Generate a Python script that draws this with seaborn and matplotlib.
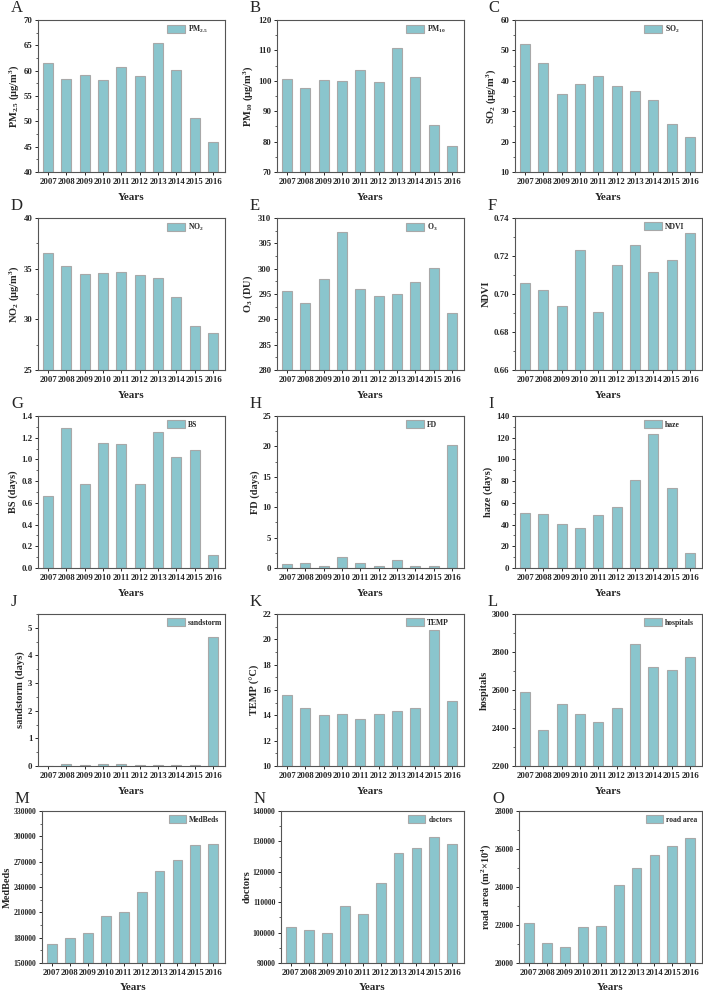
import numpy as np
import pandas as pd
import seaborn as sns
import matplotlib.pyplot as plt
from matplotlib.ticker import AutoMinorLocator

# --- data ---
years = [str(y) for y in range(2007, 2017)]

pm25 = [61.6, 58.3, 59.2, 58.2, 60.7, 59.0, 65.4, 60.1, 50.6, 46.0]
pm10 = [100.7, 97.6, 100.3, 99.8, 103.6, 99.5, 110.7, 101.3, 85.3, 78.4]
so2 = [52.2, 45.9, 35.8, 39.0, 41.5, 38.4, 36.6, 33.6, 25.9, 21.6]
no2 = [36.5, 35.3, 34.5, 34.6, 34.7, 34.4, 34.1, 32.2, 29.3, 28.7]
o3 = [295.6, 293.2, 298.0, 307.2, 296.0, 294.6, 295.0, 297.4, 300.2, 291.3]
ndvi = [0.7057, 0.7022, 0.6937, 0.7233, 0.6903, 0.7152, 0.7257, 0.7117, 0.7180, 0.7323]
bs = [0.66, 1.29, 0.77, 1.15, 1.14, 0.77, 1.25, 1.02, 1.09, 0.12]
fd = [0.7, 0.9, 0.4, 1.8, 0.9, 0.4, 1.3, 0.4, 0.4, 20.3]
haze = [51, 49.5, 40.5, 37, 49, 56, 81, 123, 73.5, 13.5]
sandstorm = [0.01, 0.08, 0.05, 0.08, 0.08, 0.03, 0.04, 0.02, 0.02, 4.68]
temp = [15.6, 14.6, 14.0, 14.1, 13.7, 14.1, 14.35, 14.6, 20.7, 15.1]
hospitals = [2590, 2390, 2525, 2475, 2430, 2505, 2840, 2720, 2705, 2775]
medbeds = [173000, 180000, 185000, 205500, 210500, 234000, 258500, 271500, 289500, 291500]
doctors = [101700, 101000, 100000, 108800, 106000, 116200, 126100, 127800, 131300, 129000]
road_area = [22100, 21050, 20850, 21900, 21950, 24100, 25000, 25700, 26150, 26600]

# (letter, values, legend label, y label, y limits, y ticks)
panels = [
    ("A", pm25, "PM$_{2.5}$", "PM$_{2.5}$ (μg/m$^3$)", (40, 70), np.arange(40, 71, 5)),
    ("B", pm10, "PM$_{10}$", "PM$_{10}$ (μg/m$^3$)", (70, 120), np.arange(70, 121, 10)),
    ("C", so2, "SO$_2$", "SO$_2$ (μg/m$^3$)", (10, 60), np.arange(10, 61, 10)),
    ("D", no2, "NO$_2$", "NO$_2$ (μg/m$^3$)", (25, 40), np.arange(25, 41, 5)),
    ("E", o3, "O$_3$", "O$_3$ (DU)", (280, 310), np.arange(280, 311, 5)),
    ("F", ndvi, "NDVI", "NDVI", (0.66, 0.74), [0.66, 0.68, 0.70, 0.72, 0.74]),
    ("G", bs, "BS", "BS (days)", (0, 1.4), np.round(np.arange(0, 1.41, 0.2), 1)),
    ("H", fd, "FD", "FD (days)", (0, 25), np.arange(0, 26, 5)),
    ("I", haze, "haze", "haze (days)", (0, 140), np.arange(0, 141, 20)),
    ("J", sandstorm, "sandstorm", "sandstorm (days)", (0, 5.5), np.arange(0, 6, 1)),
    ("K", temp, "TEMP", "TEMP (°C)", (10, 22), np.arange(10, 23, 2)),
    ("L", hospitals, "hospitals", "hospitals", (2200, 3000), np.arange(2200, 3001, 200)),
    ("M", medbeds, "MedBeds", "MedBeds", (150000, 330000), np.arange(150000, 330001, 30000)),
    ("N", doctors, "doctors", "doctors", (90000, 140000), np.arange(90000, 140001, 10000)),
    ("O", road_area, "road area", "road area (m$^2$×10$^4$)", (20000, 28000), np.arange(20000, 28001, 2000)),
]

yfmt = {"F": "{:.2f}", "G": "{:.1f}"}

BAR = "#8AC5CD"
EDGE = "#A8A8A8"

sns.set_theme(style="white")
plt.rcParams['font.family'] = ['Liberation Serif', 'DejaVu Serif']
plt.rcParams['font.weight'] = 'bold'
plt.rcParams['mathtext.fontset'] = 'custom'
plt.rcParams['mathtext.rm'] = 'Liberation Serif:bold'
plt.rcParams['mathtext.bf'] = 'Liberation Serif:bold'
plt.rcParams['mathtext.it'] = 'Liberation Serif:bold'
plt.rcParams['mathtext.default'] = 'bf'

W, H = 703, 992
fig = plt.figure(figsize=(W / 100, H / 100), dpi=100)

col_left = [38, 277, 515]
row_top = [20, 218, 416, 614, 811]
ax_w, ax_h = 187, 152

for i, (letter, vals, leg, ylab, ylim, yticks) in enumerate(panels):
    r, c = divmod(i, 3)
    left = col_left[c]
    width = ax_w
    ysize = 6.3
    if r == 4:
        left += 4
        width -= 4
        ysize = 5.6
    ax = fig.add_axes([left / W, 1 - (row_top[r] + ax_h) / H, width / W, ax_h / H])
    df = pd.DataFrame({"year": years, "value": vals})
    sns.barplot(data=df, x="year", y="value", ax=ax, color=BAR, saturation=1,
                width=0.55, edgecolor=EDGE, linewidth=0.8)
    ax.set_xlim(-0.55, 9.65)
    ax.set_ylim(*ylim)
    ax.set_yticks(yticks)
    f = yfmt.get(letter, "{:g}")
    ax.set_yticklabels([f.format(t) for t in yticks])
    ax.yaxis.set_minor_locator(AutoMinorLocator(2))
    ax.tick_params(axis="both", which="major", direction="out", length=2.5, width=0.7,
                   labelsize=6.3, pad=1.5, left=True, bottom=True)
    ax.tick_params(axis="y", which="major", labelsize=ysize)
    ax.tick_params(axis="y", which="minor", direction="out", length=1.3, width=0.5, left=True)
    for lab in ax.get_xticklabels() + ax.get_yticklabels():
        lab.set_fontweight("bold")
    for s in ax.spines.values():
        s.set_color("#555555")
        s.set_linewidth(0.8)
    ax.set_xlabel("Years", fontsize=8, fontweight="bold", labelpad=5)
    ax.set_ylabel(ylab, fontsize=7.5, fontweight="bold", labelpad=1 if r == 4 else 2)
    ax.legend(handles=[ax.patches[0]], labels=[leg], loc="upper left",
              bbox_to_anchor=(0.68, 0.99), frameon=False, fontsize=5.5,
              handlelength=2.3, handleheight=1.3, handletextpad=0.4,
              borderaxespad=0, borderpad=0.3)
    fig.text((left - 27) / W, 1 - (row_top[r] - 12) / H, letter, fontsize=12,
             fontweight="normal", va="center", ha="left")

fig.savefig("out.png", dpi=100)
plt.close(fig)
